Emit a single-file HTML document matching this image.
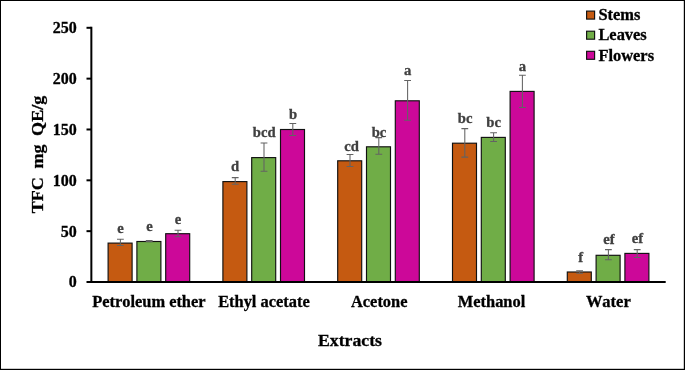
<!DOCTYPE html>
<html lang="en"><head><meta charset="utf-8"><title>TFC chart</title>
<style>html,body{margin:0;padding:0;background:#fff;overflow:hidden}body{width:685px;height:370px}</style>
</head><body>
<svg width="685" height="370" viewBox="0 0 685 370" style="display:block;font-family:'Liberation Serif', 'Times New Roman', serif;font-weight:bold;font-kerning:none">
<rect x="0" y="0" width="685" height="370" fill="#fff"/>
<rect x="108.10" y="243.10" width="24.00" height="38.90" fill="#C55A11" stroke="#111" stroke-width="1.15"/>
<rect x="136.90" y="241.50" width="24.00" height="40.50" fill="#70AD47" stroke="#111" stroke-width="1.15"/>
<rect x="165.70" y="233.70" width="24.00" height="48.30" fill="#CC0899" stroke="#111" stroke-width="1.15"/>
<rect x="222.90" y="181.60" width="24.00" height="100.40" fill="#C55A11" stroke="#111" stroke-width="1.15"/>
<rect x="251.70" y="157.60" width="24.00" height="124.40" fill="#70AD47" stroke="#111" stroke-width="1.15"/>
<rect x="280.50" y="129.50" width="24.00" height="152.50" fill="#CC0899" stroke="#111" stroke-width="1.15"/>
<rect x="337.70" y="160.80" width="24.00" height="121.20" fill="#C55A11" stroke="#111" stroke-width="1.15"/>
<rect x="366.50" y="146.80" width="24.00" height="135.20" fill="#70AD47" stroke="#111" stroke-width="1.15"/>
<rect x="395.30" y="100.80" width="24.00" height="181.20" fill="#CC0899" stroke="#111" stroke-width="1.15"/>
<rect x="452.50" y="143.20" width="24.00" height="138.80" fill="#C55A11" stroke="#111" stroke-width="1.15"/>
<rect x="481.30" y="137.40" width="24.00" height="144.60" fill="#70AD47" stroke="#111" stroke-width="1.15"/>
<rect x="510.10" y="91.40" width="24.00" height="190.60" fill="#CC0899" stroke="#111" stroke-width="1.15"/>
<rect x="567.30" y="272.00" width="24.00" height="10.00" fill="#C55A11" stroke="#111" stroke-width="1.15"/>
<rect x="596.10" y="255.30" width="24.00" height="26.70" fill="#70AD47" stroke="#111" stroke-width="1.15"/>
<rect x="624.90" y="253.40" width="24.00" height="28.60" fill="#CC0899" stroke="#111" stroke-width="1.15"/>
<path d="M120.40 239.30V245.50M117.00 239.30H123.80M117.00 245.50H123.80" stroke="#636363" stroke-width="1.05" fill="none"/>
<path d="M149.20 240.40V241.60M145.80 240.40H152.60M145.80 241.60H152.60" stroke="#636363" stroke-width="1.05" fill="none"/>
<path d="M178.00 230.30V236.80M174.60 230.30H181.40M174.60 236.80H181.40" stroke="#636363" stroke-width="1.05" fill="none"/>
<path d="M235.20 177.60V184.30M231.80 177.60H238.60M231.80 184.30H238.60" stroke="#636363" stroke-width="1.05" fill="none"/>
<path d="M264.00 143.00V171.20M260.60 143.00H267.40M260.60 171.20H267.40" stroke="#636363" stroke-width="1.05" fill="none"/>
<path d="M292.80 123.40V135.50M289.40 123.40H296.20M289.40 135.50H296.20" stroke="#636363" stroke-width="1.05" fill="none"/>
<path d="M350.00 154.50V166.40M346.60 154.50H353.40M346.60 166.40H353.40" stroke="#636363" stroke-width="1.05" fill="none"/>
<path d="M378.80 137.60V154.30M375.40 137.60H382.20M375.40 154.30H382.20" stroke="#636363" stroke-width="1.05" fill="none"/>
<path d="M407.60 80.50V120.20M404.20 80.50H411.00M404.20 120.20H411.00" stroke="#636363" stroke-width="1.05" fill="none"/>
<path d="M464.80 128.60V157.10M461.40 128.60H468.20M461.40 157.10H468.20" stroke="#636363" stroke-width="1.05" fill="none"/>
<path d="M493.60 132.70V141.50M490.20 132.70H497.00M490.20 141.50H497.00" stroke="#636363" stroke-width="1.05" fill="none"/>
<path d="M522.40 75.20V107.40M519.00 75.20H525.80M519.00 107.40H525.80" stroke="#636363" stroke-width="1.05" fill="none"/>
<path d="M579.60 270.70V273.30M576.20 270.70H583.00M576.20 273.30H583.00" stroke="#636363" stroke-width="1.05" fill="none"/>
<path d="M608.40 249.60V259.80M605.00 249.60H611.80M605.00 259.80H611.80" stroke="#636363" stroke-width="1.05" fill="none"/>
<path d="M637.20 249.60V257.50M633.80 249.60H640.60M633.80 257.50H640.60" stroke="#636363" stroke-width="1.05" fill="none"/>
<path d="M91.35 26.8V283.0" stroke="#000" stroke-width="2" fill="none"/>
<path d="M86.5 282.0H665.7" stroke="#000" stroke-width="2" fill="none"/>
<path d="M86.5 231.16H91.35" stroke="#000" stroke-width="2" fill="none"/>
<path d="M86.5 180.32H91.35" stroke="#000" stroke-width="2" fill="none"/>
<path d="M86.5 129.48H91.35" stroke="#000" stroke-width="2" fill="none"/>
<path d="M86.5 78.64H91.35" stroke="#000" stroke-width="2" fill="none"/>
<path d="M86.5 27.80H91.35" stroke="#000" stroke-width="2" fill="none"/>
<text x="76.85" y="287.40" font-size="16" text-anchor="end" fill="#000" stroke="#000" stroke-width="0.3">0</text>
<text x="76.85" y="236.56" font-size="16" text-anchor="end" fill="#000" stroke="#000" stroke-width="0.3">50</text>
<text x="76.85" y="185.72" font-size="16" text-anchor="end" fill="#000" stroke="#000" stroke-width="0.3">100</text>
<text x="76.85" y="134.88" font-size="16" text-anchor="end" fill="#000" stroke="#000" stroke-width="0.3">150</text>
<text x="76.85" y="84.04" font-size="16" text-anchor="end" fill="#000" stroke="#000" stroke-width="0.3">200</text>
<text x="76.85" y="33.20" font-size="16" text-anchor="end" fill="#000" stroke="#000" stroke-width="0.3">250</text>
<text x="120.40" y="232.70" font-size="14.67" text-anchor="middle" fill="#404040" stroke="#404040" stroke-width="0.3">e</text>
<text x="149.40" y="230.90" font-size="14.67" text-anchor="middle" fill="#404040" stroke="#404040" stroke-width="0.3">e</text>
<text x="178.10" y="224.00" font-size="14.67" text-anchor="middle" fill="#404040" stroke="#404040" stroke-width="0.3">e</text>
<text x="235.10" y="170.90" font-size="14.67" text-anchor="middle" fill="#404040" stroke="#404040" stroke-width="0.3">d</text>
<text x="264.20" y="136.70" font-size="14.67" text-anchor="middle" fill="#404040" stroke="#404040" stroke-width="0.3">bcd</text>
<text x="293.00" y="119.10" font-size="14.67" text-anchor="middle" fill="#404040" stroke="#404040" stroke-width="0.3">b</text>
<text x="351.60" y="150.70" font-size="14.67" text-anchor="middle" fill="#404040" stroke="#404040" stroke-width="0.3">cd</text>
<text x="379.00" y="136.70" font-size="14.67" text-anchor="middle" fill="#404040" stroke="#404040" stroke-width="0.3">bc</text>
<text x="407.70" y="74.70" font-size="14.67" text-anchor="middle" fill="#404040" stroke="#404040" stroke-width="0.3">a</text>
<text x="465.10" y="122.80" font-size="14.67" text-anchor="middle" fill="#404040" stroke="#404040" stroke-width="0.3">bc</text>
<text x="493.70" y="127.10" font-size="14.67" text-anchor="middle" fill="#404040" stroke="#404040" stroke-width="0.3">bc</text>
<text x="522.40" y="71.20" font-size="14.67" text-anchor="middle" fill="#404040" stroke="#404040" stroke-width="0.3">a</text>
<text x="580.60" y="261.60" font-size="14.67" text-anchor="middle" fill="#404040" stroke="#404040" stroke-width="0.3">f</text>
<text x="609.00" y="244.40" font-size="14.67" text-anchor="middle" fill="#404040" stroke="#404040" stroke-width="0.3">ef</text>
<text x="637.50" y="243.30" font-size="14.67" text-anchor="middle" fill="#404040" stroke="#404040" stroke-width="0.3">ef</text>
<text transform="translate(148.90 306.5) scale(1.024 1)" font-size="16" text-anchor="middle" fill="#000" stroke="#000" stroke-width="0.3">Petroleum ether</text>
<text transform="translate(263.90 306.5) scale(1.026 1)" font-size="16" text-anchor="middle" fill="#000" stroke="#000" stroke-width="0.3">Ethyl acetate</text>
<text transform="translate(379.20 306.5) scale(1.025 1)" font-size="16" text-anchor="middle" fill="#000" stroke="#000" stroke-width="0.3">Acetone</text>
<text transform="translate(491.50 306.5) scale(1.025 1)" font-size="16" text-anchor="middle" fill="#000" stroke="#000" stroke-width="0.3">Methanol</text>
<text transform="translate(608.30 306.5) scale(1.03 1)" font-size="16" text-anchor="middle" fill="#000" stroke="#000" stroke-width="0.3">Water</text>
<text transform="translate(350 346.4) scale(1.032 1)" font-size="17.2" text-anchor="middle" fill="#000" stroke="#000" stroke-width="0.3">Extracts</text>
<text transform="translate(43.3 213.3) rotate(-90) scale(1.052 1)" font-size="17.2" fill="#000" stroke="#000" stroke-width="0.3"><tspan x="0">TFC </tspan><tspan x="42.6">mg </tspan><tspan x="73.6">QE/g</tspan></text>
<rect x="586.6" y="11.10" width="8" height="8" fill="#C55A11" stroke="#111" stroke-width="1.15"/>
<text transform="translate(598.4 20.30) scale(1.04 1)" font-size="15.8" fill="#000" stroke="#000" stroke-width="0.3">Stems</text>
<rect x="586.6" y="31.20" width="8" height="8" fill="#70AD47" stroke="#111" stroke-width="1.15"/>
<text transform="translate(598.4 40.40) scale(1.04 1)" font-size="15.8" fill="#000" stroke="#000" stroke-width="0.3">Leaves</text>
<rect x="586.6" y="51.30" width="8" height="8" fill="#CC0899" stroke="#111" stroke-width="1.15"/>
<text transform="translate(598.4 60.50) scale(1.04 1)" font-size="15.8" fill="#000" stroke="#000" stroke-width="0.3">Flowers</text>
<rect x="0" y="0" width="685" height="1" fill="#000"/>
<rect x="0" y="0" width="1" height="370" fill="#000"/>
<rect x="683.8" y="0" width="1.2" height="370" fill="#000"/>
<rect x="0" y="368.8" width="685" height="1.2" fill="#000"/>
</svg>
</body></html>
